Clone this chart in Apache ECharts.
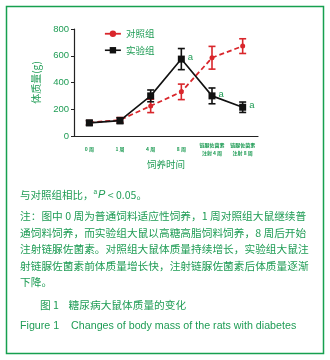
<!DOCTYPE html>
<html><head><meta charset="utf-8">
<script src="https://cdn.jsdelivr.net/npm/echarts@6/dist/echarts.min.js"></script>
<style>html,body{margin:0;padding:0;background:#fff}#c{width:330px;height:360px}</style>
</head><body><div id="c"></div>
<script>
const categories = ['0 周','1 周','4 周','8 周','链脲佐菌素\n注射 4 周','链脲佐菌素\n注射 8 周'];
const controlMean = [100,120,225,330,585,672];
const controlErr = [15,18,50,58,85,55];
const expMean = [98,115,300,575,300,215];
const expErr = [18,22,44,79,59,39];
const sigMarks = ['','','','a','a','a'];
const yMin = 0, yMax = 800, yStep = 200;
const seriesNames = ['对照组','实验组'];
const noteLines = [
  '注：图中 0 周为普通饲料适应性饲养，1 周对照组大鼠继续普',
  '通饲料饲养，而实验组大鼠以高糖高脂饲料饲养，8 周后开始',
  '注射链脲佐菌素。对照组大鼠体质量持续增长，实验组大鼠注',
  '射链脲佐菌素前体质量增长快，注射链脲佐菌素后体质量逐渐',
  '下降。'
];
const captionCN = '图 1    糖尿病大鼠体质量的变化';
const captionEN = 'Figure 1    Changes of body mass of the rats with diabetes';

const GREEN = '#1f9c55';
const RED = '#d9262b';
const BLACK = '#111111';
const CJK = '"Noto Sans CJK SC", "Liberation Sans", sans-serif';

function errData(mean, err) {
  return mean.map((m, i) => [i, m - err[i], m + err[i]]);
}
function errRender(color) {
  return function (params, api) {
    const x = api.value(0);
    const lo = api.coord([x, api.value(1)]);
    const hi = api.coord([x, api.value(2)]);
    const w = 3.5;
    const st = { stroke: color, lineWidth: 1.6 };
    return { type: 'group', children: [
      { type: 'line', shape: { x1: lo[0], y1: lo[1], x2: hi[0], y2: hi[1] }, style: st },
      { type: 'line', shape: { x1: lo[0] - w, y1: lo[1], x2: lo[0] + w, y2: lo[1] }, style: st },
      { type: 'line', shape: { x1: hi[0] - w, y1: hi[1], x2: hi[0] + w, y2: hi[1] }, style: st }
    ]};
  };
}

const chart = echarts.init(document.getElementById('c'), null, { renderer: 'canvas' });
const graphics = [
  { type: 'rect', shape: { x: 6.5, y: 6.5, width: 317, height: 347 }, style: { fill: 'none', stroke: '#16a04f', lineWidth: 1.5 }, silent: true },
  { type: 'text', left: 20, top: 189, style: {
      text: '与对照组相比，{sup|a}{it|P} < 0.05。',
      fill: GREEN, font: '10.5px ' + CJK,
      rich: {
        sup: { fontSize: 6.5, fill: GREEN, verticalAlign: 'top', padding: [0, 1, 5, 0], fontFamily: 'Liberation Sans' },
        it: { fontSize: 11, fill: GREEN, fontStyle: 'italic', fontFamily: 'Liberation Sans' }
      } } }
];
noteLines.forEach((t, i) => {
  graphics.push({ type: 'text', left: 20, top: 211 + i * 16.4, style: { text: t, fill: GREEN, font: '10.7px ' + CJK } });
});
graphics.push({ type: 'text', left: 40, top: 300, style: { text: captionCN, fill: GREEN, font: '10.7px ' + CJK } });
graphics.push({ type: 'text', left: 20, top: 321, style: { text: captionEN, fill: GREEN, font: '10.7px "Liberation Sans", Arial, sans-serif' } });

chart.setOption({
  animation: false,
  backgroundColor: '#fff',
  grid: { left: 74, top: 29, width: 184, height: 107, containLabel: false },
  legend: {
    data: [
      { name: seriesNames[0], lineStyle: { type: 'solid', color: RED, width: 1.8 } },
      { name: seriesNames[1], lineStyle: { type: 'solid', color: BLACK, width: 1.6 } }
    ],
    orient: 'vertical', left: 99, top: 24, itemGap: 7,
    itemWidth: 16, itemHeight: 8,
    textStyle: { color: GREEN, fontSize: 9.5, fontFamily: CJK, padding: [0, 0, 0, 0] }
  },
  xAxis: {
    type: 'category', data: categories, boundaryGap: true,
    name: '饲养时间', nameLocation: 'middle', nameGap: 24,
    nameTextStyle: { color: GREEN, fontSize: 9.5, fontFamily: CJK },
    axisLine: { lineStyle: { color: '#222', width: 1.2 } },
    axisTick: { alignWithLabel: true, length: 3, lineStyle: { color: '#222' } },
    axisLabel: { color: GREEN, fontSize: 5, lineHeight: 8, margin: 13, verticalAlign: 'middle', interval: 0, fontFamily: CJK, fontWeight: 'bold' }
  },
  yAxis: {
    type: 'value', min: yMin, max: yMax, interval: yStep,
    name: '体质量(g)', nameLocation: 'middle', nameGap: 33,
    nameTextStyle: { color: GREEN, fontSize: 10, fontFamily: CJK },
    axisLine: { show: true, lineStyle: { color: '#222', width: 1.2 } },
    axisTick: { show: true, length: 3, lineStyle: { color: '#222' } },
    axisLabel: { color: GREEN, fontSize: 9.5, margin: 5, fontFamily: 'Liberation Sans' },
    splitLine: { show: false }
  },
  series: [
    { name: seriesNames[0], type: 'line', data: controlMean, z: 2,
      symbol: 'circle', symbolSize: 5,
      lineStyle: { color: RED, width: 1.8, type: [5, 3] },
      itemStyle: { color: RED } },
    { type: 'custom', renderItem: errRender(RED), data: errData(controlMean, controlErr), z: 2, silent: true,
      encode: { x: 0, y: [1, 2] } },
    { name: seriesNames[1], type: 'line', data: expMean.map((v, i) => ({ value: v, label: { show: !!sigMarks[i], formatter: sigMarks[i] } })), z: 4,
      symbol: 'rect', symbolSize: 7,
      lineStyle: { color: BLACK, width: 1.6 },
      itemStyle: { color: BLACK },
      label: { position: 'right', distance: 3, offset: [0, -2], color: GREEN, fontSize: 9.5, fontFamily: 'Liberation Sans' } },
    { type: 'custom', renderItem: errRender(BLACK), data: errData(expMean, expErr), z: 3, silent: true,
      encode: { x: 0, y: [1, 2] } }
  ],
  graphic: graphics
});
</script></body></html>
